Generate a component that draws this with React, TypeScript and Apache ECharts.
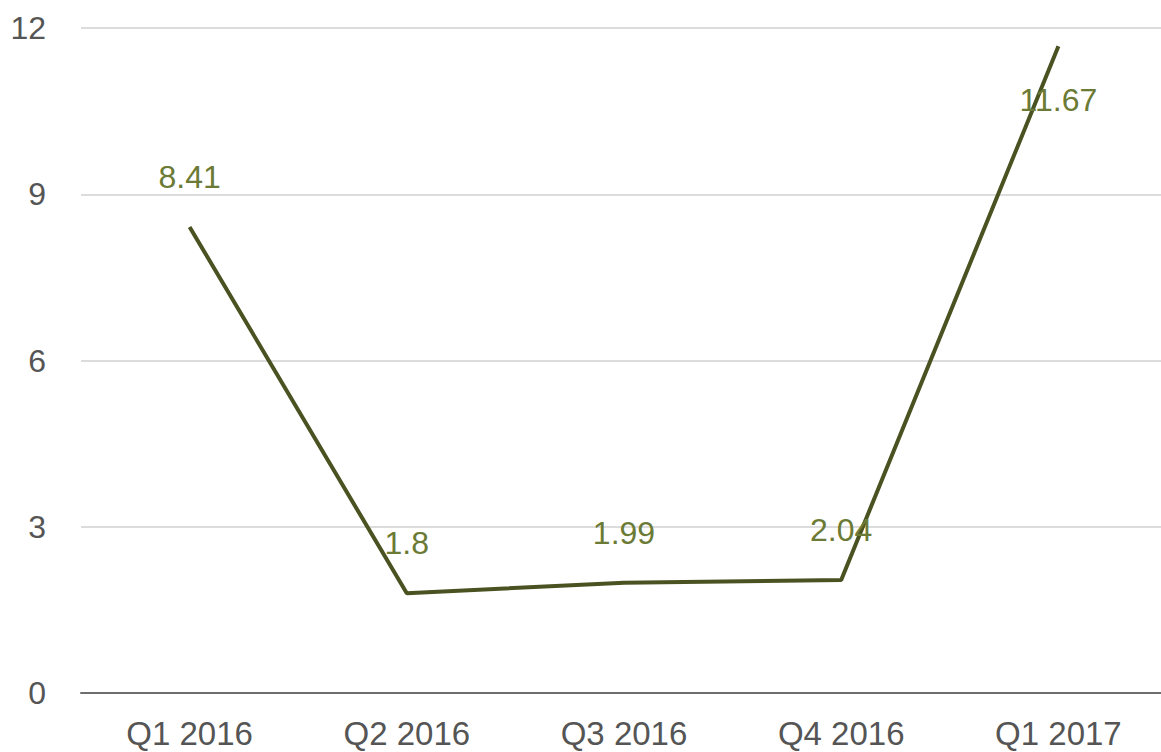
import React, { useEffect, useRef } from "react";
import * as echarts from "echarts";

const categories = ["Q1 2016", "Q2 2016", "Q3 2016", "Q4 2016", "Q1 2017"];
const values = [8.41, 1.8, 1.99, 2.04, 11.67];
const yTicks = { min: 0, max: 12, interval: 3 };

export default function App() {
  const ref = useRef<HTMLDivElement>(null);
  useEffect(() => {
    if (!ref.current) return;
    const chart = echarts.init(ref.current, null, { renderer: "svg" });
    const font = "Liberation Sans, Arial, sans-serif";
    chart.setOption({
      animation: false,
      backgroundColor: "#ffffff",
      grid: { left: 81, right: 0, top: 28, bottom: 59, containLabel: false },
      xAxis: {
        type: "category",
        data: categories,
        boundaryGap: true,
        axisLine: { show: true, lineStyle: { color: "#6e6e6e", width: 2 } },
        axisTick: { show: false },
        axisLabel: { color: "#555555", fontSize: 33, fontFamily: font, margin: 24 },
      },
      yAxis: {
        type: "value",
        min: yTicks.min,
        max: yTicks.max,
        interval: yTicks.interval,
        axisLine: { show: false },
        axisTick: { show: false },
        axisLabel: { color: "#555555", fontSize: 32, fontFamily: font, margin: 35 },
        splitLine: { lineStyle: { color: "#dcdcdc", width: 2 } },
      },
      series: [
        {
          type: "line",
          data: values.map((v, i) => ({
            value: v,
            label:
              i === values.length - 1
                ? { position: "bottom", distance: 38 }
                : { position: "top", distance: 34 },
          })),
          showSymbol: true,
          symbol: "circle",
          symbolSize: 0,
          lineStyle: { color: "#4a5222", width: 4 },
          itemStyle: { color: "#4a5222" },
          label: {
            show: true,
            color: "#6b7a34",
            fontSize: 32,
            fontFamily: font,
          },
        },
      ],
    });
    return () => chart.dispose();
  }, []);
  return (
    <div style={{ position: "absolute", left: 0, top: 0, width: 1161, height: 752, overflow: "hidden", background: "#fff" }}>
      <div ref={ref} style={{ width: 1167, height: 752 }} />
    </div>
  );
}
